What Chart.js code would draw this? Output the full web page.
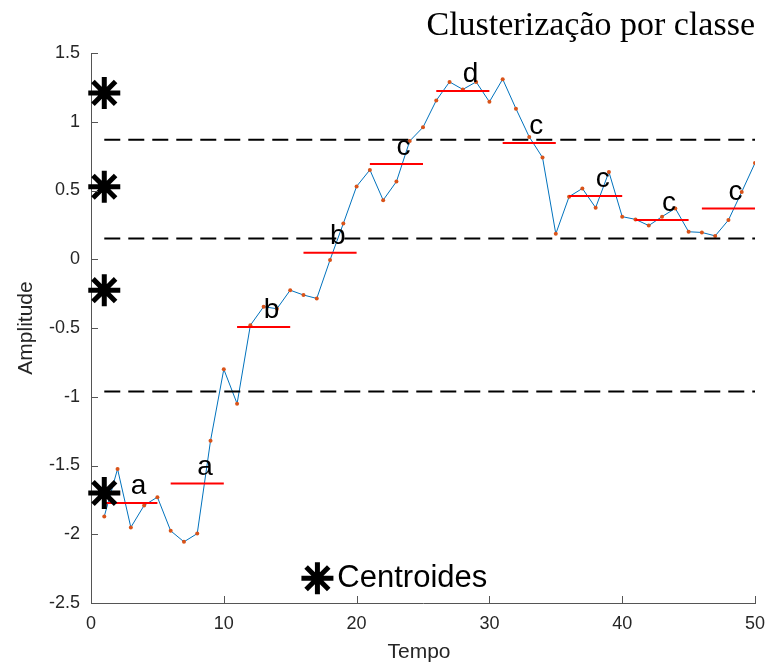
<!DOCTYPE html>
<html>
<head>
<meta charset="utf-8">
<script src="https://cdn.jsdelivr.net/npm/chart.js@4/dist/chart.umd.min.js"></script>
<style>
    html, body { margin: 0; padding: 0; background: #fff; }
</style>
</head>
<body>
<canvas id="grafico" width="765" height="666"></canvas>
<script>
// Dados
const tempo = [1, 2, 3, 4, 5, 6, 7, 8, 9, 10,
    11, 12, 13, 14, 15, 16, 17, 18, 19, 20,
    21, 22, 23, 24, 25, 26, 27, 28, 29, 30,
    31, 32, 33, 34, 35, 36, 37, 38, 39, 40,
    41, 42, 43, 44, 45, 46, 47, 48, 49, 50];
const amplitude = [-1.87, -1.525, -1.95, -1.79, -1.73, -1.975, -2.055, -1.995, -1.32, -0.80,
    -1.05, -0.48, -0.345, -0.36, -0.225, -0.26, -0.285, -0.005, 0.26, 0.53,
    0.65, 0.43, 0.565, 0.86, 0.96, 1.155, 1.29, 1.235, 1.29, 1.145,
    1.31, 1.095, 0.89, 0.74, 0.185, 0.455, 0.515, 0.375, 0.635, 0.31,
    0.29, 0.245, 0.31, 0.37, 0.2, 0.195, 0.17, 0.285, 0.49, 0.70];

// centroides (desenhados em x = 1) e limites entre classes
const centroides = [1.21, 0.527, -0.225, -1.70];
const limites = [0.869, 0.151, -0.962];

// segmentos de 5 amostras: media e classe
const segInicio = [1, 6, 11, 16, 21, 26, 31, 36, 41, 46];
const segFim = [5, 10, 15, 20, 25, 30, 35, 40, 45, 50];
const segMedia = [-1.773, -1.63, -0.492, 0.048, 0.693, 1.223, 0.845, 0.46, 0.285, 0.369];
const segClasse = ['a', 'a', 'b', 'b', 'c', 'd', 'c', 'c', 'c', 'c'];

// marcador da legenda
const legendaPos = { x: 17.05, y: -2.32 };

const corTexto = '#262626';

function linhaDados() {
    return tempo.map((t, i) => ({ x: t, y: amplitude[i] }));
}

const datasets = [];

// estrelas dos centroides
datasets.push({
    type: 'scatter',
    data: centroides.map(c => ({ x: 1, y: c })),
    pointStyle: 'star',
    pointRadius: 16,
    borderColor: '#000',
    backgroundColor: '#000',
    pointBorderWidth: 5,
    clip: false,
    order: 1
});
datasets.push({
    type: 'scatter',
    data: [legendaPos],
    pointStyle: 'star',
    pointRadius: 16,
    borderColor: '#000',
    backgroundColor: '#000',
    pointBorderWidth: 5,
    clip: false,
    order: 1
});

// medias por segmento
segMedia.forEach((m, i) => {
    datasets.push({
        type: 'line',
        data: [{ x: segInicio[i], y: m }, { x: segFim[i], y: m }],
        borderColor: '#ff0000',
        borderWidth: 2,
        pointRadius: 0,
        order: 2
    });
});

// limites tracejados
limites.forEach(l => {
    datasets.push({
        type: 'line',
        data: [{ x: 1, y: l }, { x: 50, y: l }],
        borderColor: '#000',
        borderWidth: 2,
        borderDash: [16, 8],
        pointRadius: 0,
        order: 3
    });
});

// sinal
datasets.push({
    type: 'line',
    data: linhaDados(),
    borderColor: '#0072BD',
    borderWidth: 1,
    pointRadius: 2,
    pointBackgroundColor: '#D95319',
    pointBorderWidth: 0,
    tension: 0,
    order: 4
});

// Textos e marcas de escala para dentro
const textosPlugin = {
    id: 'textos',
    afterDraw(chart) {
        const ctx = chart.ctx;
        const xs = chart.scales.x;
        const ys = chart.scales.y;
        const area = chart.chartArea;

        ctx.save();
        // marcas de escala
        ctx.strokeStyle = '#555';
        ctx.lineWidth = 1;
        ctx.beginPath();
        xs.ticks.forEach(t => {
            const px = Math.round(xs.getPixelForValue(t.value)) + 0.5;
            ctx.moveTo(px, area.bottom);
            ctx.lineTo(px, area.bottom - 7);
        });
        ys.ticks.forEach(t => {
            const py = Math.round(ys.getPixelForValue(t.value)) + 0.5;
            ctx.moveTo(area.left, py);
            ctx.lineTo(area.left + 7, py);
        });
        ctx.stroke();

        // letras das classes
        ctx.fillStyle = '#000';
        ctx.font = '28px "Liberation Sans", Arial, sans-serif';
        ctx.textAlign = 'left';
        ctx.textBaseline = 'middle';
        segClasse.forEach((c, i) => {
            ctx.fillText(c, xs.getPixelForValue(segInicio[i] + 2), ys.getPixelForValue(segMedia[i] + 0.12));
        });

        // legenda
        ctx.font = '31px "Liberation Sans", Arial, sans-serif';
        ctx.fillText('Centroides', xs.getPixelForValue(legendaPos.x + 1.5), ys.getPixelForValue(legendaPos.y));

        // titulo
        ctx.font = '34px "Liberation Serif", "DejaVu Serif", serif';
        ctx.textAlign = 'right';
        ctx.textBaseline = 'alphabetic';
        ctx.fillText('Clusterização por classe', 755, 35);

        // titulos dos eixos
        ctx.fillStyle = corTexto;
        ctx.font = '21px "Liberation Sans", Arial, sans-serif';
        ctx.textAlign = 'center';
        ctx.textBaseline = 'middle';
        ctx.fillText('Tempo', (area.left + area.right) / 2 - 4, 652);
        ctx.translate(26, (area.top + area.bottom) / 2);
        ctx.rotate(-Math.PI / 2);
        ctx.fillText('Amplitude', 0, 0);
        ctx.restore();
    }
};

new Chart(document.getElementById('grafico').getContext('2d'), {
    data: { datasets: datasets },
    options: {
        responsive: false,
        animation: false,
        layout: { autoPadding: false, padding: { top: 53, right: 10, left: 0, bottom: 0 } },
        plugins: {
            legend: { display: false },
            tooltip: { enabled: false }
        },
        scales: {
            x: {
                type: 'linear',
                min: 0,
                max: 50,
                grid: { display: false, drawTicks: false },
                border: { display: true, color: '#555', width: 1 },
                ticks: {
                    stepSize: 10,
                    padding: 10,
                    color: corTexto,
                    font: { family: '"Liberation Sans", Arial, sans-serif', size: 18 },
                    maxRotation: 0
                },
                afterFit: function(scale) {
                    scale.height = 63;
                    scale.paddingLeft = 0;
                    scale.paddingRight = 0;
                }
            },
            y: {
                type: 'linear',
                min: -2.5,
                max: 1.5,
                grid: { display: false, drawTicks: false },
                border: { display: true, color: '#555', width: 1 },
                ticks: {
                    stepSize: 0.5,
                    padding: 11,
                    color: corTexto,
                    font: { family: '"Liberation Sans", Arial, sans-serif', size: 18 },
                    callback: function(value) {
                        return String(value);
                    }
                },
                afterFit: function(scale) {
                    scale.width = 91;
                    scale.paddingTop = 0;
                    scale.paddingBottom = 0;
                }
            }
        }
    },
    plugins: [textosPlugin]
});
</script>
</body>
</html>
